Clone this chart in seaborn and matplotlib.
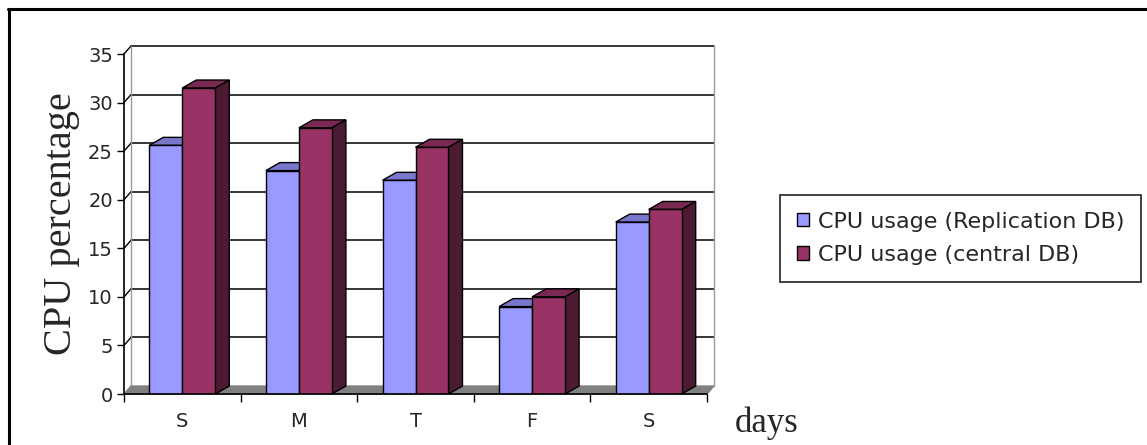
import matplotlib
matplotlib.use('Agg')
import matplotlib.pyplot as plt
import pandas as pd
import seaborn as sns
from matplotlib.lines import Line2D
from matplotlib.patches import Patch, Polygon

# data
DAY_KEYS = ['S1', 'M', 'T', 'F', 'S2']
DAY_LABELS = ['S', 'M', 'T', 'F', 'S']
SERIES = ['CPU usage (Replication DB)', 'CPU usage (central DB)']
REPLICATION = [25.6, 23.0, 22.0, 9.0, 17.7]
CENTRAL = [31.5, 27.4, 25.4, 10.0, 19.0]
Y_TICKS = [0, 5, 10, 15, 20, 25, 30, 35]

# colours (front, top, side) per series
FRONT = ['#9999ff', '#993366']
TOP = ['#7777cc', '#7a2952']
SIDE = ['#4c4c80', '#4c1a33']

# fake 3D depth, in data units (linear scales, so constant in pixels)
BAR_DX, BAR_DY = 0.12, 0.82
WALL_DX, WALL_DY = 0.06, 0.82

df = pd.DataFrame({
    'day': DAY_KEYS * 2,
    'cpu': REPLICATION + CENTRAL,
    'series': [SERIES[0]] * len(DAY_KEYS) + [SERIES[1]] * len(DAY_KEYS),
})

sns.set_style('white')
fig = plt.figure(figsize=(11.47, 4.45), dpi=100)
ax = fig.add_axes([124 / 1147, 51 / 445, 583 / 1147, 340 / 445])

sns.barplot(data=df, x='day', y='cpu', hue='series', order=DAY_KEYS,
            hue_order=SERIES, palette=FRONT, saturation=1, width=0.566,
            edgecolor='black', linewidth=1, legend=False, ax=ax)

ax.set_xlim(-0.5, 4.5)
ax.set_ylim(0, 35)

# back wall gridlines, floor and wall edges
x0, x1 = -0.5, 4.5
for y in Y_TICKS[1:]:
    ax.plot([x0 + WALL_DX, x1 + WALL_DX], [y + WALL_DY, y + WALL_DY],
            color='black', lw=1.1, zorder=0.5, clip_on=False)
    # little connector from the tick to the wall
    ax.plot([x0, x0 + WALL_DX], [y, y + WALL_DY], color='black', lw=1,
            zorder=0.5, clip_on=False)
ax.plot([x0 + WALL_DX] * 2, [WALL_DY, Y_TICKS[-1] + WALL_DY],
        color='#999999', lw=1, zorder=0.5, clip_on=False)
ax.plot([x1 + WALL_DX] * 2, [WALL_DY, Y_TICKS[-1] + WALL_DY],
        color='#999999', lw=1, zorder=0.5, clip_on=False)
floor = Polygon([(x0, 0), (x1, 0), (x1 + WALL_DX, WALL_DY),
                 (x0 + WALL_DX, WALL_DY)], closed=True,
                facecolor='#808080', edgecolor='#808080', zorder=0.6,
                clip_on=False)
ax.add_patch(floor)

# 3D faces on every bar
for i, container in enumerate(ax.containers):
    base_z = 2 + 2 * i
    for rect in container:
        bx, bw, bh = rect.get_x(), rect.get_width(), rect.get_height()
        rect.set_zorder(base_z + 1)
        top = Polygon([(bx, bh), (bx + bw, bh), (bx + bw + BAR_DX, bh + BAR_DY),
                       (bx + BAR_DX, bh + BAR_DY)], closed=True,
                      facecolor=TOP[i], edgecolor='black', lw=1, zorder=base_z)
        side = Polygon([(bx + bw, 0), (bx + bw + BAR_DX, BAR_DY),
                        (bx + bw + BAR_DX, bh + BAR_DY), (bx + bw, bh)],
                       closed=True, facecolor=SIDE[i], edgecolor='black',
                       lw=1, zorder=base_z)
        ax.add_patch(top)
        ax.add_patch(side)

# axes styling
for s in ['top', 'right']:
    ax.spines[s].set_visible(False)
for s in ['left', 'bottom']:
    ax.spines[s].set_color('black')
    ax.spines[s].set_linewidth(1.2)
    ax.spines[s].set_zorder(10)

ax.set_yticks(Y_TICKS)
ax.set_yticklabels([str(t) for t in Y_TICKS], fontsize=14,
                   family='DejaVu Sans')
ax.tick_params(axis='y', direction='out', length=5, width=1, color='black',
               left=True, pad=3)
ax.set_xticks(range(len(DAY_KEYS)))
ax.set_xticklabels(DAY_LABELS, fontsize=14, family='DejaVu Sans')
ax.set_xticks([k - 0.5 for k in range(len(DAY_KEYS) + 1)], minor=True)
ax.tick_params(axis='x', which='major', length=0, pad=13)
ax.tick_params(axis='x', which='minor', direction='out', length=6, width=1,
               color='black', bottom=True)
ax.set_xlabel('')
ax.set_ylabel('CPU percentage', fontsize=29, family='Liberation Serif',
              labelpad=6)
fig.text(735 / 1147, 1 - 423 / 445, 'days', fontsize=25,
         family='Liberation Serif', va='center', ha='left')

# legend
handles = [Patch(facecolor=FRONT[i], edgecolor='black', lw=1)
           for i in range(len(SERIES))]
leg = fig.legend(handles, SERIES, loc='upper left',
                 bbox_to_anchor=(780 / 1147, 1 - 195 / 445),
                 prop={'family': 'DejaVu Sans', 'size': 16},
                 frameon=True, fancybox=False, handlelength=0.55,
                 handleheight=0.55, handletextpad=0.4, labelspacing=0.6,
                 borderpad=0.75, borderaxespad=0)
leg.get_frame().set_edgecolor('black')
leg.get_frame().set_linewidth(1.3)

# outer frame (top and left only)
fig.add_artist(Line2D([8 / 1147, 1], [1 - 9 / 445] * 2, color='black',
                      lw=2.2, transform=fig.transFigure))
fig.add_artist(Line2D([9 / 1147] * 2, [0, 1 - 9 / 445], color='black',
                      lw=2.2, transform=fig.transFigure))

fig.savefig('out.png', dpi=100)
